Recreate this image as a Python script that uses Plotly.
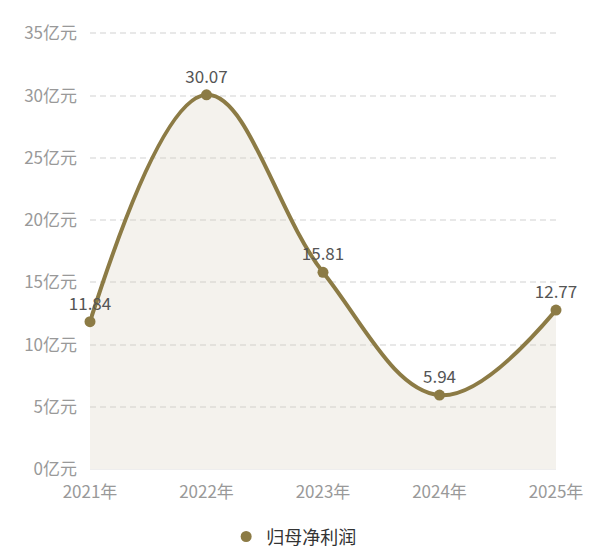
import plotly.graph_objects as go

years = ['2021年', '2022年', '2023年', '2024年', '2025年']
profit = [11.84, 30.07, 15.81, 5.94, 12.77]
labels = ['11.84', '30.07', '15.81', '5.94', '12.77']
y_ticks = [0, 5, 10, 15, 20, 25, 30, 35]
y_tick_text = ['%d亿元' % v for v in y_ticks]

line_color = '#8C7B45'
font = 'Noto Sans CJK SC'

fig = go.Figure()
fig.add_trace(go.Scatter(
    x=years, y=profit,
    mode='lines+markers+text',
    name='归母净利润',
    showlegend=False,
    line=dict(color=line_color, width=4, shape='spline', smoothing=1.1),
    marker=dict(color=line_color, size=11),
    fill='tozeroy',
    fillcolor='rgba(211,203,183,0.25)',
    text=labels,
    textposition='top center',
    textfont=dict(color='#555555', size=17, family=font),
    cliponaxis=False,
))
# legend entry: marker only
fig.add_trace(go.Scatter(
    x=[None], y=[None], mode='markers', name='归母净利润',
    marker=dict(color=line_color, size=11),
))

fig.update_layout(
    width=600, height=558,
    margin=dict(l=82, r=52, t=22.5, b=96),
    plot_bgcolor='white', paper_bgcolor='white',
    font=dict(family=font),
    showlegend=True,
    legend=dict(orientation='h', x=0.437, xanchor='center', y=-0.11, yanchor='top',
                font=dict(size=18, color='#333333', family=font),
                itemwidth=30),
)
fig.update_xaxes(
    type='category', range=[0, 4], showgrid=False, automargin=False,
    showline=True, linecolor='#EEEEEE', linewidth=1,
    tickfont=dict(size=17, color='#999999', family=font),
    ticks='', ticklabelstandoff=8,
)
fig.update_yaxes(
    range=[0, 35.2], tickvals=y_ticks, ticktext=y_tick_text, automargin=False,
    showgrid=True, gridcolor='#E8E8E8', griddash='6px,4px', gridwidth=1.5,
    zeroline=False, showline=False,
    tickfont=dict(size=17, color='#999999', family=font),
    ticklabelstandoff=12,
)

fig.write_html('out.html')
